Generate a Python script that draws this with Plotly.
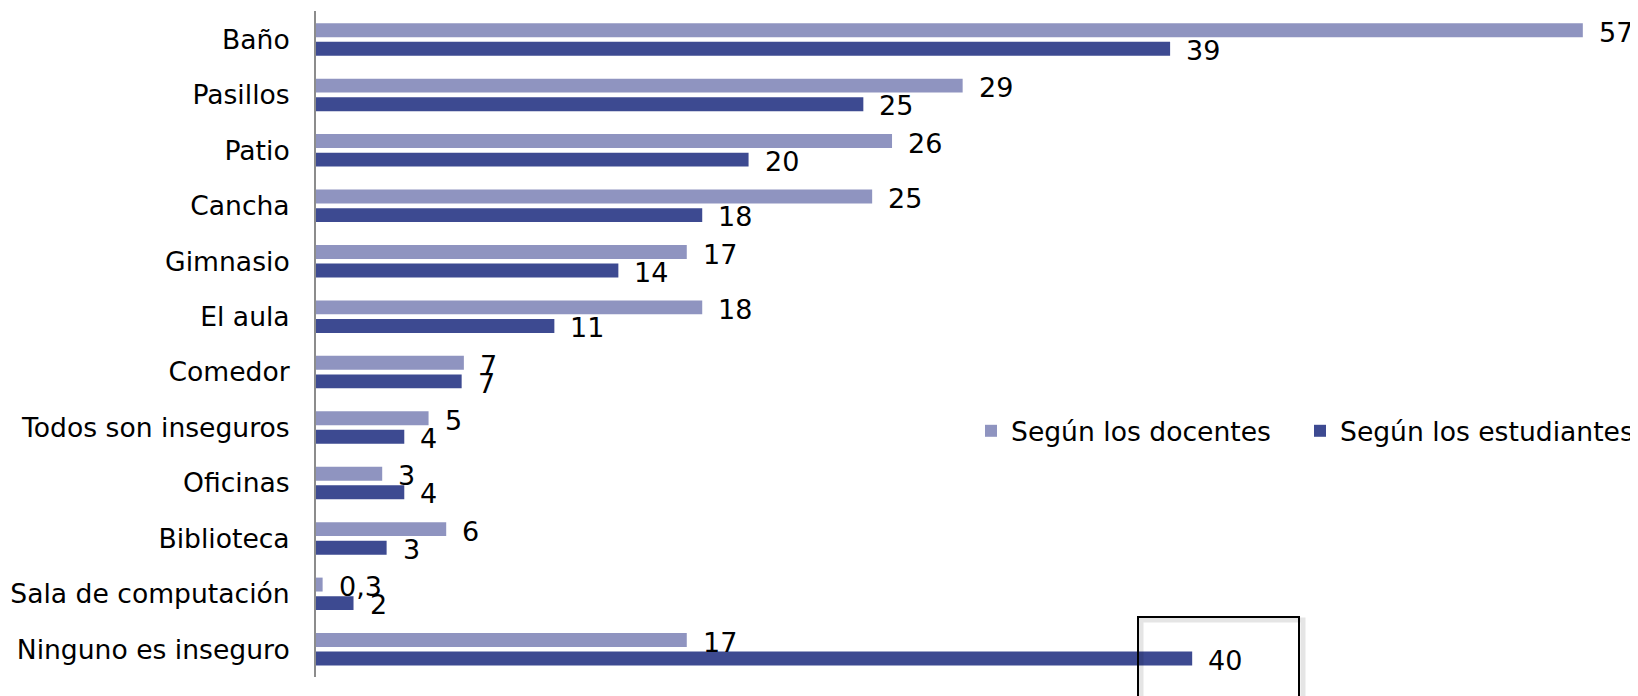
import plotly.graph_objects as go

categories = ["Baño", "Pasillos", "Patio", "Cancha", "Gimnasio", "El aula", "Comedor",
              "Todos son inseguros", "Oficinas", "Biblioteca", "Sala de computación",
              "Ninguno es inseguro"]
docentes = [57.4, 29.3, 26.1, 25.2, 16.8, 17.5, 6.7, 5.1, 3.0, 5.9, 0.3, 16.8]
estudiantes = [38.7, 24.8, 19.6, 17.5, 13.7, 10.8, 6.6, 4.0, 4.0, 3.2, 1.7, 39.7]
docentes_txt = ["57", "29", "26", "25", "17", "18", "7", "5", "3", "6", "0,3", "17"]
estudiantes_txt = ["39", "25", "20", "18", "14", "11", "7", "4", "4", "3", "2", "40"]

C_DOC = "#8F94C0"
C_EST = "#3D4A91"
FONT = "DejaVu Sans"
OFF = 8  # page body margin
W, H = 1638 - OFF, 696 - OFF
L, R, T, B = 316 - OFF, 0, 11 - OFF, 19
PX_PER_UNIT = 22.07

fig = go.Figure()
fig.add_trace(go.Bar(y=categories, x=docentes, orientation="h", name="Según los docentes",
                     marker=dict(color=C_DOC, line=dict(width=0)), legend="legend"))
fig.add_trace(go.Bar(y=categories, x=estudiantes, orientation="h", name="Según los estudiantes",
                     marker=dict(color=C_EST, line=dict(width=0)), legend="legend2"))

annotations = []
for cat, v, t in zip(categories, docentes, docentes_txt):
    annotations.append(dict(x=v, y=cat, text=t, xref="x", yref="y", showarrow=False,
                            xanchor="left", yanchor="middle", xshift=14, yshift=7,
                            font=dict(family=FONT, size=27, color="black")))
for cat, v, t in zip(categories, estudiantes, estudiantes_txt):
    annotations.append(dict(x=v, y=cat, text=t, xref="x", yref="y", showarrow=False,
                            xanchor="left", yanchor="middle", xshift=14, yshift=-11,
                            font=dict(family=FONT, size=27, color="black")))

pw = W - L - R
ph = H - T - B
def px_x(p):
    return (p - OFF - L) / pw
def px_y(p):
    return (H - B - (p - OFF)) / ph

shapes = [
    dict(type="rect", xref="paper", yref="paper",
         x0=px_x(1141), x1=px_x(1303), y0=px_y(620), y1=px_y(710),
         line=dict(color="rgba(0,0,0,0.10)", width=5), fillcolor="rgba(0,0,0,0)", layer="above"),
    dict(type="rect", xref="paper", yref="paper",
         x0=px_x(1138), x1=px_x(1299), y0=px_y(617), y1=px_y(710),
         line=dict(color="black", width=2), fillcolor="rgba(0,0,0,0)", layer="above"),
]

legend_common = dict(orientation="h", xref="paper", yref="paper",
                     xanchor="left", yanchor="middle",
                     font=dict(family=FONT, size=26.6, color="black"),
                     bgcolor="rgba(0,0,0,0)", itemwidth=30)

fig.update_layout(
    width=W, height=H,
    margin=dict(l=L, r=R, t=T, b=B, pad=0, autoexpand=False),
    paper_bgcolor="white", plot_bgcolor="white",
    barmode="group", bargap=0.33, bargroupgap=0.25,
    font=dict(family=FONT, size=27, color="black"),
    xaxis=dict(range=[0, pw / PX_PER_UNIT], showgrid=False, zeroline=False, showticklabels=False,
               showline=False, ticks=""),
    yaxis=dict(autorange="reversed", showgrid=False, zeroline=False, showline=True,
               linecolor="#8c8c8c", linewidth=2, ticks="", ticklabelstandoff=19,
               tickmode="array", tickvals=categories, ticktext=categories,
               tickfont=dict(family=FONT, size=26.6, color="black")),
    legend=dict(x=px_x(971), y=px_y(431), **legend_common),
    legend2=dict(x=px_x(1300), y=px_y(431), **legend_common),
    showlegend=True,
    annotations=annotations,
    shapes=shapes,
)

fig.write_html("out.html")
